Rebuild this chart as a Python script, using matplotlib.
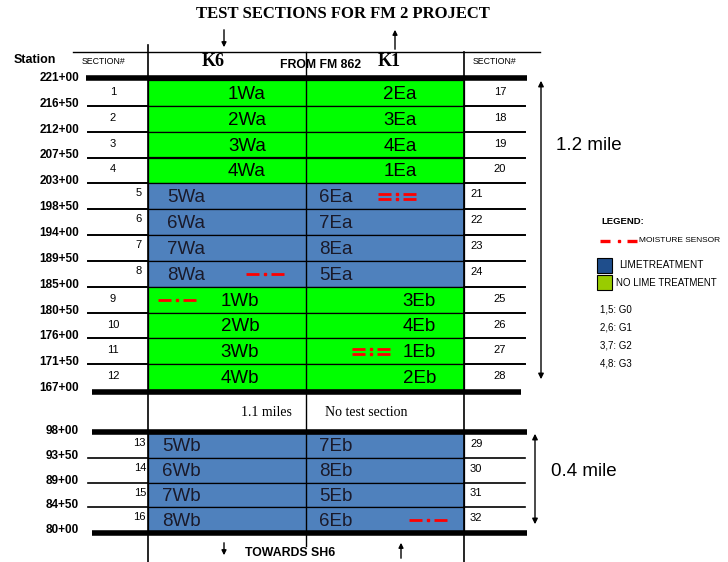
import numpy as np
import matplotlib.pyplot as plt

# ---- data ----
stations_top = ['221+00', '216+50', '212+00', '207+50', '203+00', '198+50', '194+00',
                '189+50', '185+00', '180+50', '176+00', '171+50', '167+00']
stations_bot = ['98+00', '93+50', '89+00', '84+50', '80+00']
west_top = ['1Wa', '2Wa', '3Wa', '4Wa', '5Wa', '6Wa', '7Wa', '8Wa', '1Wb', '2Wb', '3Wb', '4Wb']
east_top = ['2Ea', '3Ea', '4Ea', '1Ea', '6Ea', '7Ea', '8Ea', '5Ea', '3Eb', '4Eb', '1Eb', '2Eb']
lime_top = [0, 0, 0, 0, 1, 1, 1, 1, 0, 0, 0, 0]
west_bot = ['5Wb', '6Wb', '7Wb', '8Wb']
east_bot = ['7Eb', '8Eb', '5Eb', '6Eb']
sec_left_top = list(range(1, 13))
sec_right_top = list(range(17, 29))
sec_left_bot = [13, 14, 15, 16]
sec_right_bot = [29, 30, 31, 32]
# moisture sensors: (block, row, kind)
sensors = [('top', 4, 'double'), ('top', 7, 'single'), ('top', 8, 'single'),
           ('top', 10, 'double'), ('bot', 3, 'single')]
groups = ['1,5: G0', '2,6: G1', '3,7: G2', '4,8: G3']

GREEN = '#00ff00'
BLUE = '#4f81bd'
SANS = 'Liberation Sans'
SERIF = 'Liberation Serif'
CELL_FS = 13.5

fig = plt.figure(figsize=(7.28, 5.62), dpi=100)
ax = fig.add_axes([0, 0, 1, 1])
ax.set_xlim(0, 728)
ax.set_ylim(562, 0)
ax.axis('off')

xL, xM, xR = 148, 306, 464
top0, top1 = 80, 390
bot0, bot1 = 433, 532
rt = np.linspace(top0, top1, len(west_top) + 1)
rb = np.linspace(bot0, bot1, len(west_bot) + 1)


def sensor(xc, y, kind):
    w = 38
    x0 = xc - w / 2
    offs = [-2.6, 2.6] if kind == 'double' else [0]
    for o in offs:
        ax.plot([x0, x0 + w * 0.33], [y + o, y + o], color='red', lw=2.0, solid_capstyle='butt')
        ax.plot([x0 + w * 0.67, x0 + w], [y + o, y + o], color='red', lw=2.0, solid_capstyle='butt')
        ax.plot([xc], [y + o], 's', color='red', ms=1.7)


# upper block
for i in range(len(west_top)):
    y0, y1 = rt[i], rt[i + 1]
    yc = (y0 + y1) / 2 + 1.5
    col = BLUE if lime_top[i] else GREEN
    ax.add_patch(plt.Rectangle((xL, y0), xR - xL, y1 - y0, fc=col, ec='black', lw=0.9))
    if lime_top[i]:
        ax.text(167, yc, west_top[i], ha='left', va='center', fontsize=CELL_FS, family=SANS, color='#1a1a2a')
        ax.text(319, yc, east_top[i], ha='left', va='center', fontsize=CELL_FS, family=SANS, color='#1a1a2a')
    elif i < 4:
        ax.text(247, yc, west_top[i], ha='center', va='center', fontsize=CELL_FS, family=SANS)
        ax.text(400, yc, east_top[i], ha='center', va='center', fontsize=CELL_FS, family=SANS)
    else:
        ax.text(240, yc, west_top[i], ha='center', va='center', fontsize=CELL_FS, family=SANS)
        ax.text(436, yc, east_top[i], ha='right', va='center', fontsize=CELL_FS, family=SANS)
    # section numbers
    if 4 <= i < 8:
        ax.text(142, y0 + 10, str(sec_left_top[i]), ha='right', va='center', fontsize=8, family=SANS)
        ax.text(470, y0 + 11, str(sec_right_top[i]), ha='left', va='center', fontsize=8, family=SANS)
    else:
        ax.text(113, y0 + 12, str(sec_left_top[i]), ha='center', va='center', fontsize=8, family=SANS)
        ax.text(500, y0 + 12, str(sec_right_top[i]), ha='center', va='center', fontsize=8, family=SANS)

for j, lab in enumerate(stations_top):
    ax.text(79, rt[j] - 2, lab, ha='right', va='center', fontsize=8.5, family=SANS, weight='bold')
    if 0 < j < len(stations_top) - 1:
        ax.plot([88, xL], [rt[j], rt[j]], color='black', lw=1.4)
        ax.plot([xR, 525], [rt[j], rt[j]], color='black', lw=1.4)

# lower block
for i in range(len(west_bot)):
    y0, y1 = rb[i], rb[i + 1]
    yc = (y0 + y1) / 2 + 1.5
    ax.add_patch(plt.Rectangle((xL, y0), xR - xL, y1 - y0, fc=BLUE, ec='black', lw=0.9))
    ax.text(162, yc, west_bot[i], ha='left', va='center', fontsize=CELL_FS, family=SANS, color='#1a1a2a')
    ax.text(319, yc, east_bot[i], ha='left', va='center', fontsize=CELL_FS, family=SANS, color='#1a1a2a')
    ax.text(146, y0 + 10, str(sec_left_bot[i]), ha='right', va='center', fontsize=8, family=SANS)
    ax.text(470, y0 + 11, str(sec_right_bot[i]), ha='left', va='center', fontsize=8, family=SANS)

for j, lab in enumerate(stations_bot):
    ax.text(79, rb[j] - 2, lab, ha='right', va='center', fontsize=8.5, family=SANS, weight='bold')
    if 0 < j < len(stations_bot) - 1:
        ax.plot([88, xL], [rb[j], rb[j]], color='black', lw=1.2)
        ax.plot([xR, 525], [rb[j], rb[j]], color='black', lw=1.2)

# sensors (x centre per sensor)
sensor_x = [397, 265, 177, 371, 428]
for (blk, r, kind), xc in zip(sensors, sensor_x):
    edges = rt if blk == 'top' else rb
    sensor(xc, (edges[r] + edges[r + 1]) / 2, kind)

# frame lines
ax.plot([73, 540], [52, 52], color='black', lw=1.0)
ax.plot([xL, xL], [45, 562], color='black', lw=1.2)
ax.plot([xM, xM], [52, 546], color='black', lw=1.0)
ax.plot([xR, xR], [52, 562], color='black', lw=1.2)
for y, a, b in [(78, 86, 527), (392, 92, 521), (432, 92, 527), (533, 92, 527)]:
    ax.plot([a, b], [y, y], color='black', lw=4, solid_capstyle='butt')

# header texts
ax.text(343, 14, 'TEST SECTIONS FOR FM 2 PROJECT', ha='center', va='center', fontsize=12,
        family=SERIF, weight='bold')
ax.text(35, 60, 'Station', ha='center', va='center', fontsize=9, family=SANS, weight='bold')
ax.text(104, 62, 'SECTION#', ha='center', va='center', fontsize=6.3, family=SANS)
ax.text(495, 62, 'SECTION#', ha='center', va='center', fontsize=6.3, family=SANS)
ax.text(213, 62, 'K6', ha='center', va='center', fontsize=13, family=SERIF, weight='bold')
ax.text(389, 62, 'K1', ha='center', va='center', fontsize=13, family=SERIF, weight='bold')
ax.text(321, 65, 'FROM FM 862', ha='center', va='center', fontsize=8.8, family=SANS, weight='bold')
ax.text(292, 413, '1.1 miles', ha='right', va='center', fontsize=10, family=SERIF)
ax.text(325, 413, 'No test section', ha='left', va='center', fontsize=10, family=SERIF)
ax.text(290, 553, 'TOWARDS SH6', ha='center', va='center', fontsize=8.8, family=SANS, weight='bold')

# arrows
arr = dict(arrowstyle='-|>', color='black', lw=1.0, mutation_scale=7)
ax.annotate('', xy=(224, 50), xytext=(224, 27), arrowprops=arr)
ax.annotate('', xy=(395, 27), xytext=(395, 52), arrowprops=arr)
ax.annotate('', xy=(224, 558), xytext=(224, 540), arrowprops=arr)
ax.annotate('', xy=(401, 540), xytext=(401, 561), arrowprops=arr)
arr2 = dict(arrowstyle='<|-|>', color='black', lw=1.0, mutation_scale=8)
ax.annotate('', xy=(541, 78), xytext=(541, 382), arrowprops=arr2)
ax.annotate('', xy=(535, 431), xytext=(535, 527), arrowprops=arr2)
ax.text(556, 145, '1.2 mile', ha='left', va='center', fontsize=13.5, family=SANS)
ax.text(551, 472, '0.4 mile', ha='left', va='center', fontsize=13.5, family=SANS)

# legend
ax.text(601, 222, 'LEGEND:', ha='left', va='center', fontsize=6.8, family=SANS, weight='bold')
ax.plot([600, 610], [241, 241], color='red', lw=2.4, solid_capstyle='butt')
ax.plot([619], [241], 's', color='red', ms=1.6)
ax.plot([627, 637], [241, 241], color='red', lw=2.4, solid_capstyle='butt')
ax.text(639, 241, 'MOISTURE SENSOR', ha='left', va='center', fontsize=6.0, family=SANS)
ax.add_patch(plt.Rectangle((597, 258), 15, 15, fc='#1f4e8c', ec='black', lw=0.8))
ax.add_patch(plt.Rectangle((597, 275), 15, 15, fc='#99cc00', ec='black', lw=0.8))
ax.text(619, 265, 'LIMETREATMENT', ha='left', va='center', fontsize=7.2, family=SANS)
ax.text(616, 283, 'NO LIME TREATMENT', ha='left', va='center', fontsize=7.0, family=SANS)
for k, g in enumerate(groups):
    ax.text(600, [310, 328, 345, 364][k], g, ha='left', va='center', fontsize=7, family=SANS)

fig.savefig('out.png', dpi=100)
